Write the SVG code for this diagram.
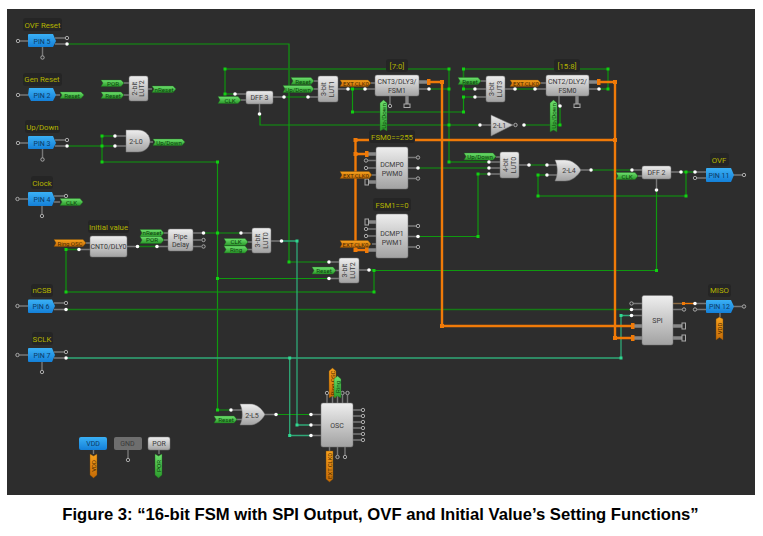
<svg xmlns="http://www.w3.org/2000/svg" width="763" height="536" viewBox="0 0 763 536">
<style>
text{font-family:Roboto,"Liberation Sans",Arial,sans-serif}
.cap{font-family:"Liberation Sans",Arial,sans-serif;font-size:16.65px;font-weight:700;fill:#000;text-anchor:middle}
.lb{font-size:7.8px;fill:#b4b400;text-anchor:middle}
.lbb{fill:#252525}
.t{font-size:7px;fill:#3a3a3a;text-anchor:middle}
.tp{font-size:7px;fill:#0b3a66;text-anchor:middle}
.tg{font-size:6.2px;fill:#0c3f0c;text-anchor:middle}
.to{font-size:6px;fill:#4a2a00;text-anchor:middle}
.w{fill:none;stroke:#0f990f;stroke-width:1.2}
.wd{fill:none;stroke:#167a16;stroke-width:1.6}
.wt{fill:none;stroke:#2fa877;stroke-width:1.3}
.wo{fill:none;stroke:#f07a08;stroke-width:2.4}
.s{fill:none;stroke:#777;stroke-width:1.4}
.st{fill:none;stroke:#888;stroke-width:3.4}
.pin{fill:url(#gp)}
.box{fill:url(#gb);stroke:#777;stroke-width:.5}
.tgg{fill:url(#gg);stroke:#1d6d1d;stroke-width:.4}
.tgo{fill:url(#go);stroke:#7a4a05;stroke-width:.4}
.hr{fill:#2d2d2d;stroke:#aaa;stroke-width:1}
.os{fill:#f07a08}
.j{fill:#12d012}
.jt{fill:#30d890}
.jo{fill:#f07a08}
</style>
<defs>
<linearGradient id="gp" x1="0" y1="0" x2="0" y2="1"><stop offset="0" stop-color="#3ab0f5"/><stop offset="1" stop-color="#1480d8"/></linearGradient>
<linearGradient id="gb" x1="0" y1="0" x2="0" y2="1"><stop offset="0" stop-color="#eeeeee"/><stop offset="1" stop-color="#a2a2a2"/></linearGradient>
<linearGradient id="gg" x1="0" y1="0" x2="0" y2="1"><stop offset="0" stop-color="#6ee06e"/><stop offset="1" stop-color="#2a9a2a"/></linearGradient>
<linearGradient id="go" x1="0" y1="0" x2="0" y2="1"><stop offset="0" stop-color="#f7a21e"/><stop offset="1" stop-color="#c46a06"/></linearGradient>
<circle id="h" r="1.7" fill="#2d2d2d" stroke="#aaa" stroke-width="1"/>
<circle id="d" r="1.8" fill="#fff"/>
</defs>
<rect width="763" height="536" fill="#fff"/>
<rect x="7" y="9" width="748" height="486" fill="#2d2d2d"/>

<g id="connectors">
<path class="w" d="M67 44H289V262H329"/>
<path class="wd" d="M225 94V69H449V162H489M225 94H235"/>
<path class="w" d="M284 97H308M348 89H365M352.500 89V112H463.500V97H475M429 89H449"/>
<path class="w" d="M260 114V125H480M524 125H560V106"/>
<path class="wd" d="M599 89H608V69H463.500V89H475M515 89H535"/>
<path class="w" d="M418 168H489M418 236.500H478V174H489"/>
<path class="w" d="M529 165H547M591 170H632"/>
<path class="wd" d="M547 175H538V196H686V172M681 172H695"/>
<path class="w" d="M656.500 190V270.500H374"/>
<path class="wd" d="M369 270H374V292H66V249.500H79"/>
<path class="wd" d="M137.500 246.500H157M67 146H115M102 136H115V136M102 136V162"/>
<path class="w" d="M102 162H217.500V410H231M203.500 233H241M217.500 278.500H329M276 414.500H311"/>
<path class="wd" d="M66 309.500H632"/>
<path class="wt" d="M67 358H621V315.500H632M281.500 241H297V425H311M289.700 358V435.500H311"/>
<path class="wo" d="M355.500 154V140H615M354 154H367M442 82H429M442 82V326H632M615 82H599M615 82V338H632M355.500 140V250H367"/>
<path d="M683 303.500H695" stroke="#f07a08" stroke-width="1.4" fill="none"/>
<rect class="j" x="223.500" y="67.500" width="3" height="3"/><rect class="j" x="223.500" y="92.500" width="3" height="3"/>
<rect class="j" x="447.500" y="67.500" width="3" height="3"/><rect class="j" x="447.500" y="87.500" width="3" height="3"/>
<rect class="j" x="447.500" y="123.500" width="3" height="3"/><rect class="j" x="447.500" y="160.500" width="3" height="3"/>
<rect class="j" x="351" y="87.500" width="3" height="3"/><rect class="j" x="351" y="110.500" width="3" height="3"/>
<rect class="j" x="462" y="67.500" width="3" height="3"/><rect class="j" x="462" y="87.500" width="3" height="3"/>
<rect class="j" x="462" y="95.500" width="3" height="3"/><rect class="j" x="462" y="110.500" width="3" height="3"/>
<rect class="j" x="606.500" y="67.500" width="3" height="3"/><rect class="j" x="606.500" y="87.500" width="3" height="3"/>
<rect class="j" x="100.500" y="134.500" width="3" height="3"/><rect class="j" x="100.500" y="144.500" width="3" height="3"/>
<rect class="j" x="100.500" y="160.500" width="3" height="3"/><rect class="j" x="216" y="160.500" width="3" height="3"/>
<rect class="j" x="216" y="231.500" width="3" height="3"/><rect class="j" x="216" y="277" width="3" height="3"/>
<rect class="j" x="216" y="408.500" width="3" height="3"/><rect class="j" x="287.500" y="260.500" width="3" height="3"/>
<rect class="j" x="476.500" y="172.500" width="3" height="3"/><rect class="j" x="476.500" y="235" width="3" height="3"/>
<rect class="j" x="536.500" y="173.500" width="3" height="3"/><rect class="j" x="536.500" y="194.500" width="3" height="3"/>
<rect class="j" x="684.500" y="170.500" width="3" height="3"/><rect class="j" x="684.500" y="194.500" width="3" height="3"/>
<rect class="j" x="558.500" y="123.500" width="3" height="3"/><rect class="j" x="655" y="269" width="3" height="3"/>
<rect class="j" x="372.500" y="269" width="3" height="3"/><rect class="j" x="372.500" y="290.500" width="3" height="3"/>
<rect class="j" x="64.500" y="248" width="3" height="3"/><rect class="j" x="64.500" y="290.500" width="3" height="3"/>
<rect class="jt" x="295.500" y="239.500" width="3" height="3"/><rect class="jt" x="295.500" y="423.500" width="3" height="3"/>
<rect class="jt" x="288.200" y="356.500" width="3" height="3"/><rect class="jt" x="288.200" y="434" width="3" height="3"/>
<rect class="jt" x="619.500" y="314" width="3" height="3"/><rect class="jt" x="619.500" y="356.500" width="3" height="3"/>
<rect class="jo" x="353.500" y="138" width="4" height="4"/><rect class="jo" x="440" y="80" width="4" height="4"/>
<rect class="jo" x="613" y="80" width="4" height="4"/><rect class="jo" x="613" y="138" width="4" height="4"/>
<rect class="jo" x="353.500" y="152" width="4" height="4"/><rect class="jo" x="353.500" y="248" width="4" height="4"/>
<rect class="jo" x="440" y="324" width="4" height="4"/><rect class="jo" x="613" y="336" width="4" height="4"/>
</g>

<g id="label-ovf-reset"><rect class="lbb" x="23" y="18" width="39" height="13" rx="3"/><text class="lb" x="42.500" y="28">OVF Reset</text></g>
<g id="label-gen-reset"><rect class="lbb" x="23" y="73" width="39" height="13" rx="3"/><text class="lb" x="42" y="82">Gen Reset</text></g>
<g id="label-up-down"><rect class="lbb" x="25" y="120" width="35" height="13" rx="3"/><text class="lb" x="42.500" y="130">Up/Down</text></g>
<g id="label-clock"><rect class="lbb" x="31" y="176" width="22" height="13" rx="3"/><text class="lb" x="42" y="186">Clock</text></g>
<g id="label-initial"><rect class="lbb" x="88" y="220" width="41" height="13" rx="3"/><text class="lb" x="108.500" y="230">Initial value</text></g>
<g id="label-ncsb"><rect class="lbb" x="31" y="284" width="22" height="13" rx="3"/><text class="lb" x="42" y="293">nCSB</text></g>
<g id="label-sclk"><rect class="lbb" x="32" y="332" width="21" height="13" rx="3"/><text class="lb" x="42" y="342">SCLK</text></g>
<g id="label-7-0"><rect class="lbb" x="386" y="59" width="22" height="13" rx="3"/><text class="lb" x="397" y="69">[7:0]</text></g>
<g id="label-15-8"><rect class="lbb" x="554" y="59" width="26" height="13" rx="3"/><text class="lb" x="567" y="69">[15:8]</text></g>
<g id="label-fsm0"><rect class="lbb" x="369" y="130" width="46" height="13" rx="3"/><text class="lb" x="392" y="140">FSM0==255</text></g>
<g id="label-fsm1"><rect class="lbb" x="373" y="198" width="38" height="13" rx="3"/><text class="lb" x="392" y="208">FSM1==0</text></g>
<g id="label-ovf"><rect class="lbb" x="710" y="153" width="19" height="13" rx="3"/><text class="lb" x="719" y="163">OVF</text></g>
<g id="label-miso"><rect class="lbb" x="708" y="284" width="23" height="13" rx="3"/><text class="lb" x="719.500" y="293">MISO</text></g>

<g id="pin5"><path class="s" d="M20 41H28M55 38H65M55 44H65M42.500 47V56"/><path class="pin" d="M29 34H53L56 41 53 47H29Q28 47 28 46V35Q28 34 29 34Z"/><text class="tp" x="42" y="43.500">PIN 5</text><use href="#h" x="18" y="41"/><use href="#h" x="67" y="38"/><use href="#d" x="67" y="44"/><use href="#h" x="42.500" y="57.500"/></g>
<g id="pin2"><path class="s" d="M20 95H28M55 95H60"/><path class="pin" d="M29 88H53L56 95 53 101H31L28 95Z"/><text class="tp" x="42" y="97.500">PIN 2</text><use href="#h" x="18" y="95"/><path class="tgg" d="M60 92H81L84 95 81 98.500H60L62 95Z"/><text class="tg" x="72" y="97.500">Reset</text></g>
<g id="pin3"><path class="s" d="M20 143H28M55 140H65M55 146H65M42.500 149V158"/><path class="pin" d="M29 136H53L56 143 53 149H29Q28 149 28 148V137Q28 136 29 136Z"/><text class="tp" x="42" y="145.500">PIN 3</text><use href="#h" x="18" y="143"/><use href="#h" x="67" y="140"/><use href="#d" x="67" y="146"/><use href="#h" x="42.500" y="159.500"/></g>
<g id="pin4"><path class="s" d="M19.500 199H28M54 196H64M54 202H60M42 206V214"/><path class="pin" d="M29 192H52L55 199 52 206H29Q28 206 28 205V193Q28 192 29 192Z"/><text class="tp" x="42" y="201.500">PIN 4</text><use href="#h" x="17.500" y="199"/><use href="#h" x="66" y="196"/><use href="#h" x="42" y="216"/><path class="tgg" d="M60 198.500H80L83 202 80 205.500H60L62 202Z"/><text class="tg" x="71.500" y="204.500">CLK</text></g>
<g id="pin6"><path class="s" d="M19.500 306H28M54 303H64M54 309.500H64"/><path class="pin" d="M29 299.500H52L55 306 52 313H29Q28 313 28 312V300.500Q28 299.500 29 299.500Z"/><text class="tp" x="41" y="308.500">PIN 6</text><use href="#h" x="17.500" y="306"/><use href="#h" x="66" y="303"/><use href="#d" x="66" y="309.500"/></g>
<g id="pin7"><path class="s" d="M19.500 355H28M54 352H64M54 358H64M42 362V370"/><path class="pin" d="M29 348H52L55 355 52 362H29Q28 362 28 361V349Q28 348 29 348Z"/><text class="tp" x="42" y="357.500">PIN 7</text><use href="#h" x="17.500" y="355"/><use href="#h" x="66" y="352"/><use href="#d" x="66" y="358"/><use href="#h" x="42" y="372"/></g>
<g id="pin11"><path class="s" d="M695 172H706M695 178H706M733 175H742"/><path class="pin" d="M707 168H731L734 175 731 182H707Q706 182 706 181V169Q706 168 707 168Z"/><text class="tp" x="719" y="177.500">PIN 11</text><use href="#d" x="695" y="172"/><use href="#h" x="695" y="178"/><use href="#h" x="744" y="175"/></g>
<g id="pin12"><path class="s" d="M697 309.500H706M697 303.500H706M733 306.500H742M720 313V317"/><path class="pin" d="M707 300H731L734 306.500 731 313H707Q706 313 706 312V301Q706 300 707 300Z"/><text class="tp" x="719.500" y="309">PIN 12</text><use href="#d" x="695" y="303.500"/><use href="#h" x="695" y="309.500"/><use href="#h" x="744" y="306.500"/><path class="tgo" d="M716 319L719.500 317 723 319V340L719.500 337.500 716 340Z"/><text class="to" transform="translate(722 328.500) rotate(-90)">VDD</text></g>

<g id="lut2a"><path class="s" d="M124 83H129M124 95H129M148 89H152"/><path class="tgg" d="M101 80H121L124 83 121 86.500H101L103 83Z"/><text class="tg" x="113" y="85.500">POR</text><path class="tgg" d="M101 92H121L124 95 121 98.500H101L103 95Z"/><text class="tg" x="113" y="97.500">Reset</text><rect class="box" x="129" y="76" width="19" height="25" rx="2"/><text class="t" transform="translate(136.500 88.500) rotate(-90)">2-bit</text><text class="t" transform="translate(144 88.500) rotate(-90)">LUT2</text><path class="tgg" d="M152 86H173L176 89 173 92.500H152L154 89Z"/><text class="tg" x="164" y="91.500">nReset</text></g>

<g id="gate-l0"><path class="s" d="M117 136H126M117 146H126M149 142H153"/><path class="box" d="M126 130H138C146 130 150 136 150 141 150 146 146 152 138 152H126Z"/><text class="t" x="136" y="144">2-L0</text><use href="#d" x="115" y="136"/><use href="#d" x="115" y="146"/><path class="tgg" d="M153 139H182L185 142 182 145.500H153L155 142Z"/><text class="tg" x="169" y="144.500">Up/Down</text></g>

<g id="dff3"><path class="s" d="M235 94H246M241 100H246M273 97H284M259.500 104V114"/><path class="tgg" d="M218 96.500H238L241 100 238 103.500H218L220 100Z"/><text class="tg" x="230" y="102.500">CLK</text><rect class="box" x="246" y="91" width="27" height="13" rx="2"/><text class="t" x="259.500" y="100">DFF 3</text><use href="#d" x="235" y="94"/><use href="#d" x="284" y="97"/><use href="#d" x="259.500" y="114"/></g>

<g id="lut1"><path class="s" d="M314 81H318M314 89H318M308 97H318M338 89H348"/><path class="tgg" d="M291 77.500H311L314 81 311 84.500H291L293 81Z"/><text class="tg" x="303" y="83.500">Reset</text><path class="tgg" d="M283 85.500H311L314 89 311 92.500H283L285 89Z"/><text class="tg" x="298" y="91.500">Up/Down</text><rect class="box" x="318" y="76" width="20" height="26" rx="2"/><text class="t" transform="translate(326 89) rotate(-90)">3-bit</text><text class="t" transform="translate(334 89) rotate(-90)">LUT1</text><use href="#d" x="308" y="97"/><use href="#d" x="348" y="89"/></g>

<g id="cnt3"><path class="s" d="M365 89H375M371 83H375M390 96V104M419 89H429"/><path class="st" d="M407 96V104M419 82H428"/><path class="tgo" d="M340 80H368L371 83 368 86.500H340L342 83Z"/><text class="to" x="356" y="85.500">EXT.CLK0</text><rect class="box" x="375" y="75" width="44" height="21" rx="2"/><text class="t" x="397" y="84">CNT3/DLY3/</text><text class="t" x="397" y="92.500">FSM1</text><use href="#d" x="365" y="89"/><use href="#d" x="429" y="89"/><use href="#h" x="390" y="106"/><rect class="hr" x="404" y="104" width="6" height="3.500"/><rect class="os" x="427" y="79" width="3.500" height="6"/><path class="tgg" d="M380 103L383.500 100 387 103V131L383.500 129 380 131Z"/><text class="tg" transform="translate(385.500 116) rotate(-90)">Up/Down</text></g>

<g id="lut3"><path class="s" d="M481 81H486M477 89H486M477 97H486M505 89H515"/><path class="tgg" d="M458 77.500H478L481 81 478 84.500H458L460 81Z"/><text class="tg" x="470" y="83.500">Reset</text><rect class="box" x="486" y="76" width="19" height="26" rx="2"/><text class="t" transform="translate(494 89) rotate(-90)">3-bit</text><text class="t" transform="translate(502 89) rotate(-90)">LUT3</text><use href="#d" x="475" y="89"/><use href="#d" x="475" y="97"/><use href="#d" x="515" y="89"/></g>

<g id="cnt2"><path class="s" d="M535 89H546M541 83H546M559 96V106M589 89H599"/><path class="st" d="M577 96V104M589 82H598"/><path class="tgo" d="M510 80H538L541 83 538 86.500H510L512 83Z"/><text class="to" x="526" y="85.500">EXT.CLK0</text><rect class="box" x="546" y="75" width="43" height="21" rx="2"/><text class="t" x="567.500" y="84">CNT2/DLY2/</text><text class="t" x="567.500" y="92.500">FSM0</text><use href="#d" x="535" y="89"/><use href="#d" x="599" y="89"/><use href="#d" x="560" y="106"/><rect class="hr" x="574" y="104" width="6" height="3.500"/><rect class="os" x="597" y="79" width="3.500" height="6"/><path class="tgg" d="M550 103L553.500 100 557 103V132L553.500 130 550 132Z"/><text class="tg" transform="translate(555.500 116) rotate(-90)">Up/Down</text></g>

<g id="not-l1"><path class="s" d="M482 125H491"/><path class="box" d="M491 115L513 125 491 136Z"/><text class="t" x="499.500" y="128">2-L1</text><use href="#d" x="480" y="125"/><use href="#h" x="515.500" y="125"/><use href="#d" x="524" y="125"/></g>

<g id="dcmp0"><path class="s" d="M368 160.500H376M368 168H376M372 175H376M408 157.500H416M408 168H418M408 178.500H416"/><path class="st" d="M367 154H376M368 182H376"/><rect class="os" x="365" y="151" width="3.500" height="6"/><rect class="box" x="376" y="147" width="32" height="42" rx="2"/><text class="t" x="392" y="167">DCMP0</text><text class="t" x="392" y="175.500">PWM0</text><use href="#h" x="366" y="160.500"/><use href="#h" x="366" y="168"/><rect class="hr" x="365" y="179" width="3.500" height="6"/><use href="#h" x="418" y="157.500"/><use href="#d" x="418" y="168"/><use href="#h" x="418" y="178.500"/><path class="tgo" d="M340 171.500H369L372 175 369 178.500H340L342 175Z"/><text class="to" x="356" y="177.500">EXT.CLK0</text></g>

<g id="dcmp1"><path class="s" d="M368 229H376M368 236H376M372 244H376M408 226H416M408 236.500H418M408 247H416"/><path class="st" d="M368 222H376M367 250H376"/><rect class="os" x="365" y="247" width="3.500" height="6"/><rect class="box" x="376" y="214" width="32" height="44" rx="2"/><text class="t" x="392" y="236">DCMP1</text><text class="t" x="392" y="244.500">PWM1</text><rect class="hr" x="365" y="219" width="3.500" height="6"/><use href="#h" x="366" y="229"/><use href="#h" x="366" y="236"/><use href="#h" x="418" y="226"/><use href="#d" x="418" y="236.500"/><use href="#h" x="418" y="247"/><path class="tgo" d="M340 240.500H368L371 244 368 247.500H340L342 244Z"/><text class="to" x="355.500" y="246.500">EXT.CLK0</text></g>

<g id="lut0-4bit"><path class="s" d="M491 162H500M491 168H500M491 174H500M496 157H500M519 165H529"/><path class="tgg" d="M464 153H493L496 156.500 493 160H464L466 156.500Z"/><text class="tg" x="480" y="159">Up/Down</text><rect class="box" x="500" y="152" width="19" height="26" rx="2"/><text class="t" transform="translate(508 165) rotate(-90)">4-bit</text><text class="t" transform="translate(516 165) rotate(-90)">LUT0</text><use href="#d" x="489" y="162"/><use href="#d" x="489" y="168"/><use href="#d" x="489" y="174"/><use href="#d" x="529" y="165"/></g>

<g id="or-l4"><path class="s" d="M549 165H557M549 175H557M581 170H589"/><path class="box" d="M555 160H565C572 160 578 165 581 170 578 176 572 181 565 181H555C558 175 558 166 555 160Z"/><text class="t" x="569" y="173">2-L4</text><use href="#d" x="547" y="165"/><use href="#d" x="547" y="175"/><use href="#d" x="591" y="170"/></g>

<g id="dff2"><path class="s" d="M634 170H642M638 176H642M671 172H681M656.500 179V188"/><path class="tgg" d="M616 172.500H635L638 176 635 179.500H616L618 176Z"/><text class="tg" x="627" y="178.500">CLK</text><rect class="box" x="642" y="166" width="29" height="13" rx="2"/><text class="t" x="656.500" y="175">DFF 2</text><use href="#d" x="632" y="170"/><use href="#d" x="681" y="172"/><use href="#d" x="656.500" y="190"/></g>

<g id="cnt0"><path class="s" d="M86 243H90M81 249.500H90M127 246.500H137"/><path class="tgo" d="M54 239.500H83L86 243 83 246.500H54L56 243Z"/><text class="to" x="70" y="245.500">Ring OSC</text><rect class="box" x="90" y="236" width="37" height="21" rx="2"/><text class="t" x="108.500" y="249">CNT0/DLY0</text><use href="#d" x="79" y="249.500"/><use href="#d" x="137.500" y="246.500"/></g>

<g id="pipe-delay"><path class="s" d="M164 233H168M164 240H168M159 246.500H168M193 233H203M193 240H201M193 246.500H201"/><path class="tgg" d="M140 229.500H161L164 233 161 236.500H140L142 233Z"/><text class="tg" x="152" y="235.300">nReset</text><path class="tgg" d="M140 236.500H161L164 240 161 243.500H140L142 240Z"/><text class="tg" x="152" y="242.400">POR</text><rect class="box" x="168" y="229" width="25" height="22" rx="2"/><text class="t" x="180.500" y="238.500">Pipe</text><text class="t" x="180.500" y="247">Delay</text><use href="#d" x="157" y="246.500"/><use href="#d" x="203.500" y="233"/><use href="#h" x="203.500" y="240"/><use href="#h" x="203.500" y="246.500"/></g>

<g id="lut0-3bit"><path class="s" d="M243 233H252M248 242H252M248 249.500H252M271 241H281"/><path class="tgg" d="M224 238.500H245L248 242 245 245.500H224L226 242Z"/><text class="tg" x="236" y="244.300">CLK</text><path class="tgg" d="M224 246H245L248 249.500 245 253H224L226 249.500Z"/><text class="tg" x="236" y="251.800">Ring</text><rect class="box" x="252" y="228" width="19" height="25" rx="2"/><text class="t" transform="translate(260 240.500) rotate(-90)">3-bit</text><text class="t" transform="translate(268 240.500) rotate(-90)">LUT0</text><use href="#d" x="241" y="233"/><use href="#d" x="281.500" y="241"/></g>

<g id="lut2b"><path class="s" d="M331 262H339M336 270.500H339M331 278.500H339M359 270H369"/><path class="tgg" d="M312 267H333L336 270.500 333 274H312L314 270.500Z"/><text class="tg" x="324" y="273">Reset</text><rect class="box" x="339" y="258" width="20" height="25" rx="2"/><text class="t" transform="translate(347 270.500) rotate(-90)">3-bit</text><text class="t" transform="translate(355 270.500) rotate(-90)">LUT2</text><use href="#d" x="329" y="262"/><use href="#d" x="329" y="278.500"/><use href="#d" x="369" y="270"/></g>

<g id="spi"><path class="s" d="M633 303.500H642M633 309.500H642M633 315.500H642M673 309.500H682"/><path d="M673 303.500H683" stroke="#8a6a44" stroke-width="1.400" fill="none"/><path class="st" d="M634 326H642M634 338H642M673 326H682M673 338H682"/><rect class="os" x="631" y="323" width="3.500" height="6"/><rect class="os" x="631" y="335" width="3.500" height="6"/><rect class="box" x="642" y="295.500" width="31" height="49.500" rx="2"/><text class="t" x="657.500" y="323">SPI</text><use href="#h" x="631.500" y="303.500"/><use href="#d" x="631.500" y="309.500"/><use href="#d" x="631.500" y="315.500"/><rect class="jo" x="682" y="302" width="3" height="3"/><use href="#h" x="684" y="309.500"/><rect class="hr" x="682" y="323" width="3.500" height="6"/><rect class="hr" x="682" y="335" width="3.500" height="6"/></g>

<g id="or-l5"><path class="s" d="M233 410H242M237 419.500H242M265 414.500H274"/><path class="box" d="M240 404H250C257 404 262 409 265 414.500 262 420 257 425 250 425H240C243 419 243 410 240 404Z"/><text class="t" x="252" y="417.500">2-L5</text><path class="tgg" d="M214 416H234L237 419.500 234 423H214L216 419.500Z"/><text class="tg" x="226" y="422">Reset</text><use href="#d" x="231" y="410"/><use href="#d" x="276" y="414.500"/></g>

<g id="osc"><path class="s" d="M313 414.500H321M313 425H321M313 435.500H321M327 395V403M332.500 395V403M337.500 395V403M342.500 395V403M347.500 395V403M329.500 447V451M337.500 447V455M345 447V455M353 410H361M353 416H361M353 422H361M353 428H361M353 434H361M353 440H361"/><rect class="box" x="321" y="403" width="32" height="44" rx="2"/><text class="t" x="337" y="428">OSC</text><use href="#d" x="311" y="414.500"/><use href="#d" x="311" y="425"/><use href="#d" x="311" y="435.500"/><use href="#h" x="327" y="393"/><use href="#h" x="342.500" y="393"/><use href="#h" x="347.500" y="393"/><use href="#h" x="363" y="410"/><use href="#h" x="363" y="416"/><use href="#h" x="363" y="422"/><use href="#h" x="363" y="428"/><use href="#h" x="363" y="434"/><use href="#h" x="363" y="440"/><use href="#h" x="337.500" y="457"/><use href="#h" x="345" y="457"/><path class="tgo" d="M329 371L332.500 368 336 371V398L332.500 396 329 398Z"/><text class="to" transform="translate(334.500 383) rotate(-90)">Ring OSC</text><path class="tgg" d="M334 379L337.500 376 341 379V398L337.500 396 334 398Z"/><text class="tg" transform="translate(339.500 387) rotate(-90)">Ring</text><path class="tgo" d="M326 451H333V479L329.500 482 326 479Z"/><text class="to" transform="translate(331.500 466) rotate(-90)">EXT.CLK0</text></g>

<g id="vdd"><path class="s" d="M93.500 450V454"/><rect class="pin" x="79" y="437" width="28" height="13" rx="2"/><text class="tp" x="93" y="446">VDD</text><path class="tgo" d="M90 454L93.500 456 97 454V475L93.500 478 90 475Z"/><text class="to" transform="translate(95.500 466) rotate(-90)">VDD</text></g>
<g id="gnd"><path class="s" d="M128 450V458"/><rect x="114" y="437" width="28" height="13" rx="2" fill="#6e6e6e"/><text class="t" x="127.500" y="446">GND</text><use href="#h" x="128" y="460"/></g>
<g id="por"><path class="s" d="M159 450V454"/><rect class="box" x="148" y="437" width="22" height="13" rx="2"/><text class="t" x="159" y="446">POR</text><path class="tgg" d="M155 454L158.500 456 162 454V475L158.500 478 155 475Z"/><text class="tg" transform="translate(160.500 466) rotate(-90)">POR</text></g>

<text class="cap" x="380.500" y="519.500">Figure 3: “16-bit FSM with SPI Output, OVF and Initial Value’s Setting Functions”</text>
</svg>
